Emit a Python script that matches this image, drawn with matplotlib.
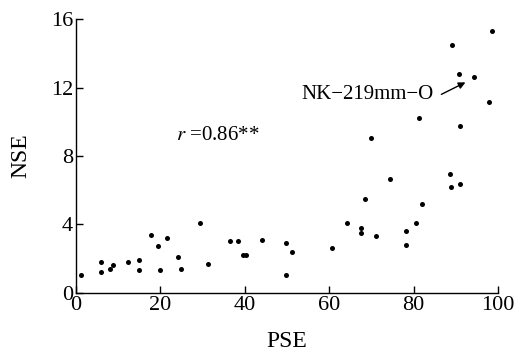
import matplotlib
matplotlib.use("Agg")
import matplotlib.pyplot as plt

# PSE vs NSE values
pse = [1.2, 6.0, 6.0, 8.1, 8.8, 12.3, 14.9, 14.9, 17.9, 19.4,
       19.9, 21.7, 24.2, 24.9, 29.5, 31.2, 36.5, 38.5, 39.7, 40.3,
       44.0, 49.8, 49.8, 51.3, 60.7, 64.2, 67.5, 67.5, 68.4, 71.1,
       74.5, 78.2, 78.2, 80.6, 81.9, 88.6, 88.8, 91.1, 98.7, 89.2,
       90.8, 94.3, 97.9, 81.4, 91.0, 69.9]
nse = [1.03, 1.81, 1.23, 1.42, 1.61, 1.81, 1.91, 1.33, 3.41, 2.72,
       1.33, 3.21, 2.12, 1.42, 4.11, 1.71, 3.02, 3.02, 2.22, 2.22,
       3.11, 2.92, 1.03, 2.41, 2.63, 4.11, 3.81, 3.50, 5.49, 3.31,
       6.68, 3.60, 2.82, 4.11, 5.20, 6.97, 6.17, 6.36, 15.28, 14.5,
       12.8, 12.6, 11.13, 10.24, 9.75, 9.05]

x_ticks = [0, 20, 40, 60, 80, 100]
y_ticks = [0, 4, 8, 12, 16]

plt.rcParams['font.family'] = ['Liberation Serif', 'DejaVu Serif']
plt.rcParams['mathtext.fontset'] = 'stix'

fig = plt.figure(figsize=(5.16, 3.59), dpi=100)
ax = fig.add_axes([0.147, 0.184, 0.818, 0.763])

ax.scatter(pse, nse, s=13, color='black', linewidths=0, zorder=3)

ax.set_xlim(0, 100)
ax.set_ylim(0, 16)
ax.set_xticks(x_ticks)
ax.set_yticks(y_ticks)
ax.tick_params(direction='in', length=5, width=1, labelsize=16, pad=2)

for side in ['top', 'right']:
    ax.spines[side].set_visible(False)
for side in ['left', 'bottom']:
    ax.spines[side].set_linewidth(1.0)

ax.set_xlabel('PSE', fontsize=17, labelpad=12)
ax.set_ylabel('NSE', fontsize=17, labelpad=14)

ax.text(23.8, 9.2, r'$r$ =0.86**', fontsize=15, va='center', ha='left')

# label and arrow for the highlighted point
ax.text(84.8, 11.6, 'NK\u2212219mm\u2212O', fontsize=15, ha='right', va='center')
ax.annotate('', xy=(92.3, 12.3), xytext=(86.6, 11.6),
            arrowprops=dict(arrowstyle='-|>', color='black', lw=1,
                            shrinkA=0, shrinkB=0, mutation_scale=10))

fig.savefig('out.png', dpi=100)
